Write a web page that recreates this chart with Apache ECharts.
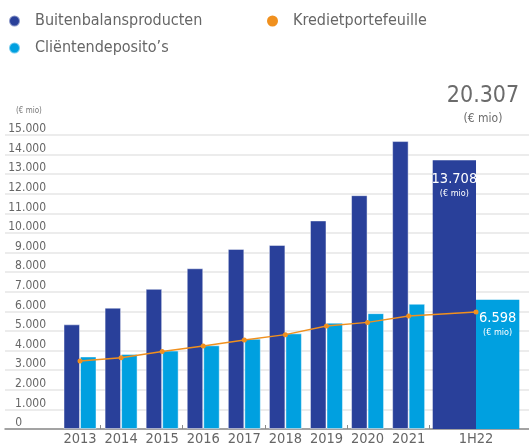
<!DOCTYPE html>
<html>
<head>
<meta charset="utf-8">
<script src="https://cdn.jsdelivr.net/npm/echarts@6/dist/echarts.min.js"></script>
<style>
  html, body { margin: 0; padding: 0; background: #fff; }
  #main { width: 529px; height: 447px; }
</style>
</head>
<body>
<div id="main"></div>
<script>
    // data (€ mio)
    var years = ['2013', '2014', '2015', '2016', '2017', '2018', '2019', '2020', '2021'];
    var lastPeriod = '1H22';
    var buitenbalans = [5340, 6190, 7150, 8200, 9190, 9390, 10640, 11930, 14690];
    var buitenbalansLast = 13708;
    var deposito = [3700, 3830, 4000, 4270, 4610, 4880, 5425, 5910, 6390];
    var depositoLast = 6598;
    var krediet = [3470, 3630, 3950, 4240, 4540, 4815, 5255, 5440, 5765, 5965];
    var totalLast = 20307;

    var fontName = '"DejaVu Sans Condensed", "Liberation Sans Narrow", sans-serif';

    function fmt(n) {
        return String(n).replace(/\B(?=(\d{3})+(?!\d))/g, '.');
    }

    // slot of each period on the x axis; the last group is wider and sits a bit further right
    var lastSlot = 9.64;
    var slots = years.map(function (y, i) { return i; }).concat([lastSlot]);
    var labels = years.concat([lastPeriod]);

    var xMin = -1.826, xMax = 10.93;

    var myChart = echarts.init(document.getElementById('main'));

    var barLabel = {
        show: true, position: 'insideTop', distance: 11, color: '#fff', align: 'center',
        formatter: function (p) { return '{v|' + fmt(p.value[1]) + '}\n{u|(€ mio)}'; },
        rich: {
            v: { fontSize: 14.5, color: '#fff', fontFamily: fontName, lineHeight: 16 },
            u: { fontSize: 9, color: '#fff', fontFamily: fontName, lineHeight: 12 }
        }
    };

    var legendText = { fontSize: 16, color: '#666', fontFamily: fontName, padding: [0, 0, 0, 10] };

    var option = {
        animation: false,
        textStyle: { fontFamily: fontName },
        title: [{
            text: '(€ mio)',
            left: 11, top: 102,
            textStyle: { fontSize: 8, fontWeight: 'normal', color: '#777', fontFamily: fontName }
        }, {
            text: fmt(totalLast),
            subtext: '(€ mio)',
            left: 478, top: 80, textAlign: 'center', itemGap: 5,
            textStyle: { fontSize: 23, fontWeight: 'normal', color: '#6b6b6b', fontFamily: fontName },
            subtextStyle: { fontSize: 12, color: '#6b6b6b', fontFamily: fontName }
        }],
        legend: [{
            data: ['Buitenbalansproducten'], left: 3, top: 8,
            icon: 'circle', itemWidth: 11, itemHeight: 11,
            textStyle: legendText
        }, {
            data: ['Kredietportefeuille'], left: 262, top: 8,
            icon: 'circle', itemWidth: 11, itemHeight: 11,
            textStyle: legendText
        }, {
            data: ['Cliëntendeposito’s'], left: 3, top: 35,
            icon: 'circle', itemWidth: 11, itemHeight: 11,
            textStyle: legendText
        }],
        grid: { left: 5, right: 0, top: 135, bottom: 17 },
        xAxis: [{
            type: 'value', min: xMin, max: xMax,
            splitLine: { show: false },
            axisLine: { show: true, lineStyle: { color: '#8a8a8a', width: 1.5 } },
            axisTick: { show: true, inside: true, length: 4, customValues: [0.5, 2.5, 4.5, 6.5, 8.5], lineStyle: { color: '#8a8a8a' } },
            axisLabel: {
                customValues: slots, margin: 3,
                fontSize: 14.5, color: '#666', fontFamily: fontName,
                formatter: function (v) {
                    for (var i = 0; i < slots.length; i++) {
                        if (Math.abs(slots[i] - v) < 0.01) return labels[i];
                    }
                    return '';
                }
            }
        }, {
            type: 'value', min: xMin, max: xMax, show: false
        }],
        yAxis: {
            type: 'value', min: 0, max: 15000, interval: 1000,
            axisLine: { show: false },
            axisTick: { show: false },
            splitLine: { lineStyle: { color: '#e6e6e6', width: 1.5 } },
            axisLabel: {
                inside: true, margin: 41, align: 'right', verticalAlign: 'bottom',
                fontSize: 12, color: '#666', fontFamily: fontName,
                formatter: function (v) { return v === 0 ? '{z|0}' : fmt(v); },
                rich: {
                    z: { fontSize: 12, color: '#666', fontFamily: fontName, padding: [0, 24, 0, 0] }
                }
            }
        },
        series: [{
            name: 'Buitenbalansproducten',
            type: 'bar', xAxisIndex: 0,
            barWidth: 16.5, barGap: 0,
            itemStyle: { color: '#29409a', borderColor: 'rgba(255,255,255,0.45)', borderWidth: 1 },
            data: buitenbalans.map(function (v, i) { return [slots[i], v]; })
        }, {
            name: 'Cliëntendeposito’s',
            type: 'bar', xAxisIndex: 0,
            barWidth: 16.5, barGap: 0,
            itemStyle: { color: '#00a0e0', borderColor: 'rgba(255,255,255,0.45)', borderWidth: 1 },
            data: deposito.map(function (v, i) { return [slots[i], v]; })
        }, {
            name: 'Buitenbalansproducten',
            type: 'bar', xAxisIndex: 1,
            barWidth: 43.3, barGap: 0,
            itemStyle: { color: '#29409a' },
            label: barLabel,
            data: [[lastSlot, buitenbalansLast]]
        }, {
            name: 'Cliëntendeposito’s',
            type: 'bar', xAxisIndex: 1,
            barWidth: 43.3, barGap: 0,
            itemStyle: { color: '#00a0e0' },
            label: barLabel,
            data: [[lastSlot, depositoLast]]
        }, {
            name: 'Kredietportefeuille',
            type: 'line', xAxisIndex: 0, z: 5,
            symbol: 'circle', symbolSize: 5,
            itemStyle: { color: '#f0901e' },
            lineStyle: { color: '#f0901e', width: 1.5 },
            data: krediet.map(function (v, i) { return [slots[i], v]; })
        }]
    };

    myChart.setOption(option);
</script>
</body>
</html>
